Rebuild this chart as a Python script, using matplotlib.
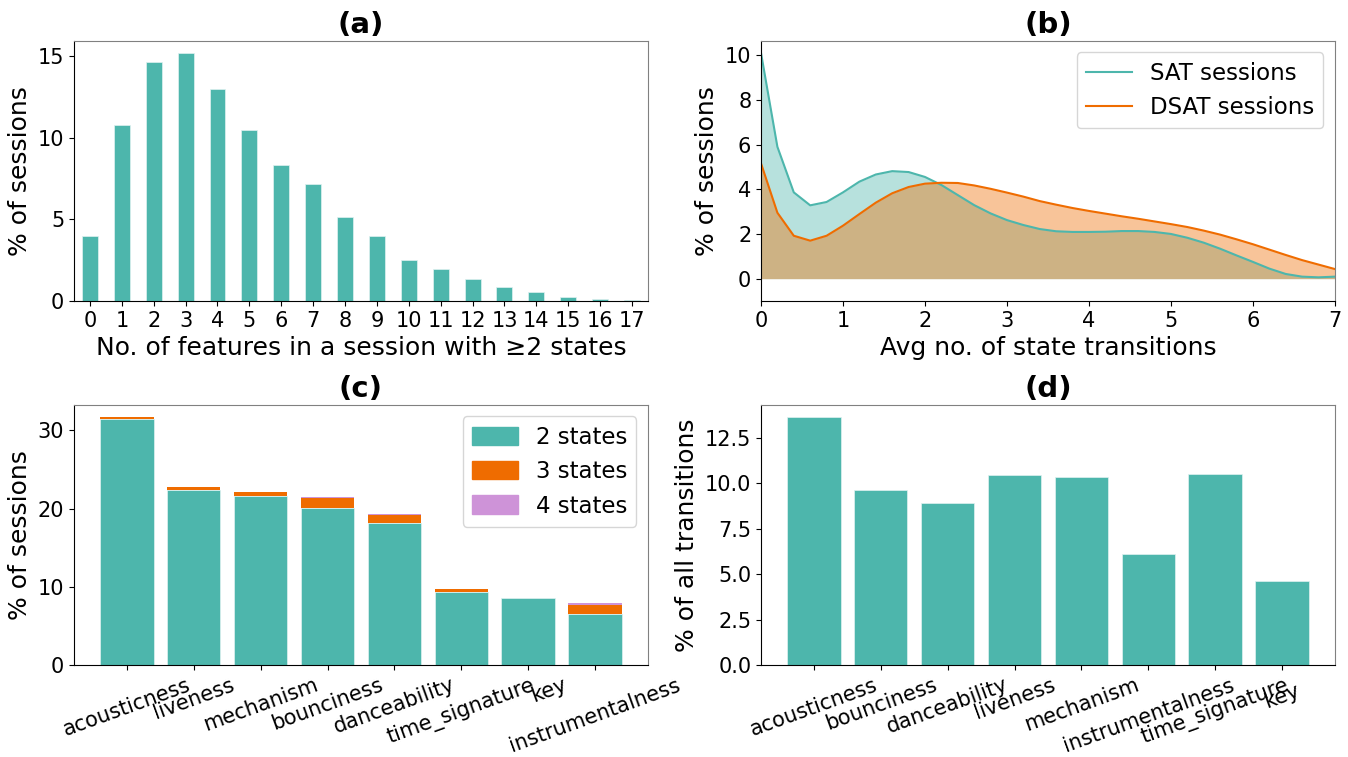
import numpy as np
import matplotlib
matplotlib.use('agg')
import matplotlib.pyplot as plt
import matplotlib.transforms as mtrans
from matplotlib.patches import Patch

TEAL = '#4db6ac'
ORANGE = '#ef6c00'
PINK = '#ce93d8'

# (a) number of features per session with >=2 states
n_features = list(range(18))
pct_sessions_a = [3.98, 10.76, 14.61, 15.16, 12.96, 10.47, 8.33, 7.16, 5.12, 3.98,
                  2.49, 1.98, 1.33, 0.88, 0.55, 0.22, 0.12, 0.06]

# (b) avg no. of state transitions
trans_x = [0.0, 0.2, 0.4, 0.6, 0.8, 1.0, 1.2, 1.4, 1.6, 1.8, 2.0, 2.2, 2.4, 2.6, 2.8,
           3.0, 3.2, 3.4, 3.6, 3.8, 4.0, 4.2, 4.4, 4.6, 4.8, 5.0, 5.2, 5.4, 5.6, 5.8,
           6.0, 6.2, 6.4, 6.6, 6.8, 7.0]
sat = [10.1, 5.9, 3.86, 3.28, 3.43, 3.86, 4.34, 4.66, 4.81, 4.77, 4.55, 4.19, 3.74,
       3.29, 2.92, 2.62, 2.40, 2.22, 2.12, 2.09, 2.09, 2.10, 2.13, 2.13, 2.09, 2.0,
       1.83, 1.61, 1.34, 1.04, 0.75, 0.45, 0.21, 0.09, 0.06, 0.09]
dsat = [5.16, 2.95, 1.92, 1.70, 1.92, 2.37, 2.89, 3.40, 3.82, 4.10, 4.25, 4.29, 4.28,
        4.17, 4.02, 3.85, 3.67, 3.47, 3.31, 3.16, 3.03, 2.91, 2.79, 2.68, 2.56, 2.44,
        2.31, 2.15, 1.97, 1.76, 1.54, 1.30, 1.06, 0.83, 0.63, 0.43]

# (c) states per feature
feat_c = ['acousticness', 'liveness', 'mechanism', 'bounciness', 'danceability',
          'time_signature', 'key', 'instrumentalness']
states2 = [31.45, 22.38, 21.57, 20.09, 18.13, 9.40, 8.51, 6.47]
states3 = [0.21, 0.42, 0.56, 1.31, 1.10, 0.30, 0.0, 1.23]
states4 = [0.0, 0.0, 0.0, 0.05, 0.13, 0.0, 0.0, 0.17]

# (d) share of transitions per feature
feat_d = ['acousticness', 'bounciness', 'danceability', 'liveness', 'mechanism',
          'instrumentalness', 'time_signature', 'key']
pct_trans = [13.64, 9.62, 8.91, 10.45, 10.36, 6.10, 10.52, 4.62]

TICK = 15
LABEL = 18
TITLE = 21
LEG = 16.5

fig, axes = plt.subplots(2, 2, figsize=(13.48, 7.57), dpi=100)
fig.subplots_adjust(left=0.0549, right=0.9903, bottom=0.1215, top=0.9458,
                    wspace=0.197, hspace=0.40)
ax_a, ax_b, ax_c, ax_d = axes.flat


def style(ax):
    for s in ['top', 'right']:
        ax.spines[s].set_color('#808080')
    ax.tick_params(labelsize=TICK)


# (a)
ax_a.bar(n_features, pct_sessions_a, width=0.5, color=TEAL, edgecolor='#e0f2f1', linewidth=0.5)
ax_a.set_xlim(-0.5, 17.5)
ax_a.set_xticks(n_features)
ax_a.set_yticks([0, 5, 10, 15])
ax_a.set_xlabel('No. of features in a session with \u22652 states', fontsize=LABEL)
ax_a.set_ylabel('% of sessions', fontsize=LABEL)
ax_a.set_title('(a)', fontsize=TITLE, fontweight='bold')
style(ax_a)

# (b)
ax_b.fill_between(trans_x, 0, sat, color=TEAL, alpha=0.4, linewidth=0)
ax_b.fill_between(trans_x, 0, dsat, color=ORANGE, alpha=0.4, linewidth=0)
ax_b.plot(trans_x, sat, color=TEAL, lw=1.5, label='SAT sessions')
ax_b.plot(trans_x, dsat, color=ORANGE, lw=1.5, label='DSAT sessions')
ax_b.set_xlim(0, 7)
ax_b.set_ylim(-1, 10.63)
ax_b.set_yticks([0, 2, 4, 6, 8, 10])
ax_b.set_xlabel('Avg no. of state transitions', fontsize=LABEL)
ax_b.set_ylabel('% of sessions', fontsize=LABEL)
ax_b.set_title('(b)', fontsize=TITLE, fontweight='bold')
ax_b.legend(loc='upper right', fontsize=LEG)
style(ax_b)

# (c)
xc = np.arange(len(feat_c))
b2 = np.array(states2)
b3 = np.array(states3)
ax_c.bar(xc, b2, color=TEAL, edgecolor='#e0f2f1', linewidth=0.5)
ax_c.bar(xc, b3, bottom=b2, color=ORANGE, linewidth=0)
ax_c.bar(xc, states4, bottom=b2 + b3, color=PINK, linewidth=0)
ax_c.set_ylim(0, (b2 + b3 + np.array(states4)).max() * 1.05)
ax_c.set_xticks(xc)
ax_c.set_xticklabels(feat_c, rotation=20)
# the 'key' label sits a bit right of its tick in the original
shift = mtrans.ScaledTranslation(0.21, 0.0, fig.dpi_scale_trans)
lbl = ax_c.get_xticklabels()[6]
lbl.set_transform(lbl.get_transform() + shift)
ax_c.set_yticks([0, 10, 20, 30])
ax_c.set_ylabel('% of sessions', fontsize=LABEL)
ax_c.set_title('(c)', fontsize=TITLE, fontweight='bold')
handles = [Patch(color=TEAL), Patch(color=ORANGE), Patch(color=PINK)]
ax_c.legend(handles, ['2 states', '3 states', '4 states'], loc='upper right',
            fontsize=LEG, handleheight=0.85)
style(ax_c)

# (d)
xd = np.arange(len(feat_d))
ax_d.bar(xd, pct_trans, color=TEAL, edgecolor='#e0f2f1', linewidth=0.5)
ax_d.set_xticks(xd)
ax_d.set_xticklabels(feat_d, rotation=20)
shift_d = mtrans.ScaledTranslation(0.0, -0.06, fig.dpi_scale_trans)
lbl = ax_d.get_xticklabels()[7]
lbl.set_transform(lbl.get_transform() + shift_d)
ax_d.set_yticks([0, 2.5, 5, 7.5, 10, 12.5])
ax_d.set_yticklabels(['0.0', '2.5', '5.0', '7.5', '10.0', '12.5'])
ax_d.set_ylabel('% of all transitions', fontsize=LABEL)
ax_d.set_title('(d)', fontsize=TITLE, fontweight='bold')
style(ax_d)

fig.savefig('out.png', dpi=100)
